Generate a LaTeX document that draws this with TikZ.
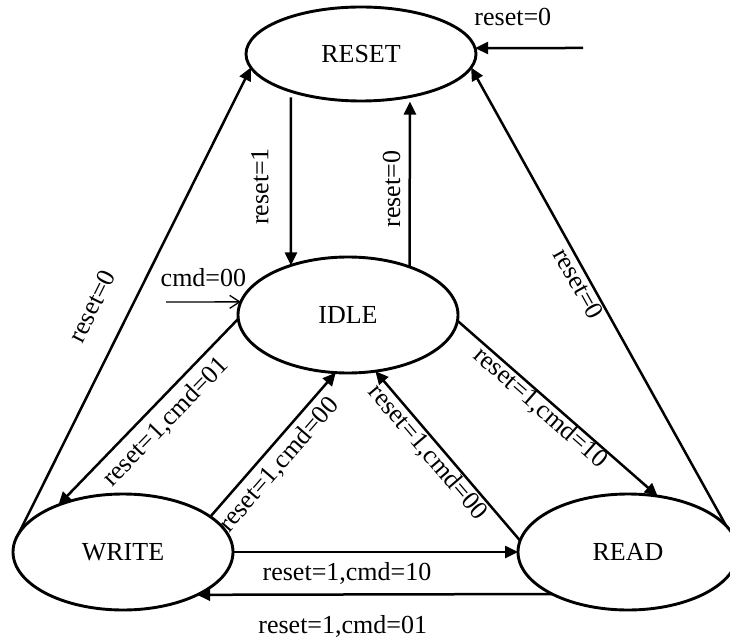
\documentclass[tikz,border=0pt]{standalone}
\usepackage{fontspec}
\setmainfont{Liberation Serif}
\usetikzlibrary{arrows.meta,shapes.geometric}
\tikzset{
  state/.style={draw,ellipse,line width=2.9pt,inner sep=0pt,outer sep=0pt,
    minimum width=220pt,minimum height=116pt},
  lbl/.style={anchor=center,inner sep=0pt},
  tr/.style={line width=2.5pt,->},
}
\begin{document}
\begin{tikzpicture}[x=1pt,y=1pt,>={Triangle[length=13pt,width=12pt]},
    font=\fontsize{26}{30}\selectfont]
    \useasboundingbox (0,0) rectangle (730,638);
    \node[state,minimum width=230pt,minimum height=94pt] (reset) at (361,584) {RESET};
    \node[state] (idle) at (348,323) {IDLE};
    \node[state] (write) at (123,86) {WRITE};
    \node[state] (read) at (628,86) {READ};
    \coordinate (rin) at (583,590);
    \coordinate (cin) at (166,336);
    \draw[tr] (rin) -- (reset.3) node[lbl,pos=0.65,yshift=31pt]{reset=0};
    \draw[line width=1.3pt,-{Straight Barb[length=10pt,width=13pt]}] (cin) -- (idle.173) node[lbl,midway,yshift=24pt]{cmd=00};
    \draw[tr] ([yshift=-6pt]reset.208) -- (idle.139) node[lbl,pos=0.53,xshift=-31pt,rotate=90]{reset=1};
    \draw[tr] (idle.38) -- ([yshift=-5pt]reset.319) node[lbl,pos=0.47,xshift=-18pt,rotate=90]{reset=0};
    \draw[tr] (write.170) -- (reset.187) node[lbl,pos=0.454,sloped,yshift=36pt]{reset=0};
    \draw[tr] (read.15) -- (reset.353) node[lbl,pos=0.54,sloped,yshift=-11pt]{reset=0};
    \draw[tr] (idle.182) -- (write.144) node[lbl,pos=0.48,sloped,yshift=-20pt]{reset=1,cmd=01};
    \draw[tr] (write.22) -- (idle.258) node[lbl,pos=0.44,sloped,yshift=-18pt]{reset=1,cmd=00};
    \draw[tr] (read.174) -- (idle.296) node[lbl,pos=0.57,sloped,yshift=-13pt]{reset=1,cmd=00};
    \draw[tr] (idle.357) -- (read.62) node[lbl,pos=0.45,sloped,yshift=-11pt]{reset=1,cmd=10};
    \draw[tr] (write.east) -- (read.west) node[lbl,pos=0.4,yshift=-21pt]{reset=1,cmd=10};
    \draw[tr] (read.209) -- (write.330) node[lbl,pos=0.59,yshift=-32pt]{reset=1,cmd=01};
\end{tikzpicture}
\end{document}
